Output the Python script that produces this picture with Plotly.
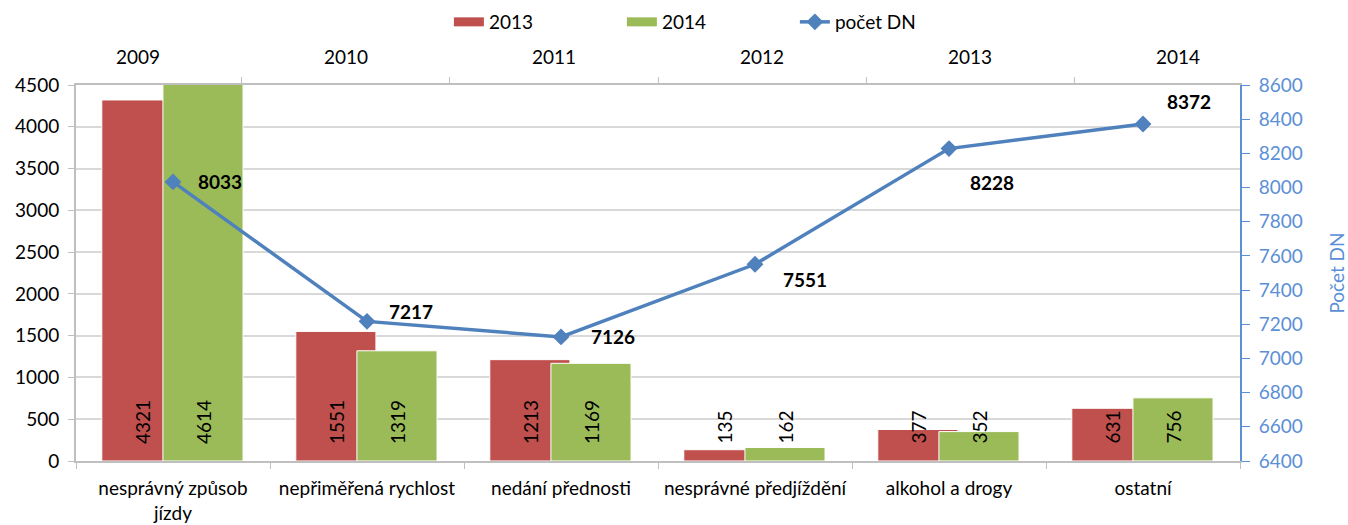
import plotly.graph_objects as go

categories = ["nesprávný způsob<br>jízdy", "nepřiměřená rychlost", "nedání přednosti",
              "nesprávné předjíždění", "alkohol a drogy", "ostatní"]
values_2013 = [4321, 1551, 1213, 135, 377, 631]
values_2014 = [4614, 1319, 1169, 162, 352, 756]
years = ["2009", "2010", "2011", "2012", "2013", "2014"]
pocet_dn = [8033, 7217, 7126, 7551, 8228, 8372]
# label offsets (px) for the line values, relative to the marker
line_label_shift = [(47, 0), (44, 10), (52, 0), (50, -15), (43, -34), (46, 22)]

RED = "#C0504D"
GREEN = "#9BBB59"
BLUE = "#4F81BD"
AXBLUE = "#5B8FD6"
GRID = "#D9D9D9"
AXGRAY = "#BFBFBF"
FONT = "Lato"
FS = 19

fig = go.Figure()
fig.add_trace(go.Bar(x=categories, y=values_2013, name="2013", showlegend=False,
                     marker=dict(color=RED, line=dict(color="white", width=1)),
                     width=0.413, offset=-0.367, xaxis="x", yaxis="y"))
fig.add_trace(go.Bar(x=categories, y=values_2014, name="2014", showlegend=False,
                     marker=dict(color=GREEN, line=dict(color="white", width=1)),
                     width=0.413, offset=-0.052, xaxis="x", yaxis="y"))
# legend entries drawn as wide rectangles (like the original legend keys)
fig.add_trace(go.Scatter(x=[None], y=[None], name="2013", mode="lines",
                         line=dict(color=RED, width=9), xaxis="x", yaxis="y"))
fig.add_trace(go.Scatter(x=[None], y=[None], name="2014", mode="lines",
                         line=dict(color=GREEN, width=9), xaxis="x", yaxis="y"))
fig.add_trace(go.Scatter(x=categories, y=pocet_dn, name="počet DN", mode="lines+markers",
                         line=dict(color=BLUE, width=3.5),
                         marker=dict(symbol="diamond", size=13, color=BLUE),
                         xaxis="x", yaxis="y2"))
# invisible trace to carry the top (year) axis
fig.add_trace(go.Scatter(x=categories, y=pocet_dn, mode="markers", marker=dict(opacity=0),
                         showlegend=False, hoverinfo="skip", xaxis="x2", yaxis="y2"))

annotations = []
for c, v13, v14 in zip(categories, values_2013, values_2014):
    for v, dx in ((v13, -31), (v14, 30)):
        annotations.append(dict(x=c, y=0, xref="x", yref="y", text=str(v), textangle=-90,
                                showarrow=False, xanchor="center", yanchor="bottom",
                                xshift=dx, yshift=15, font=dict(family=FONT, size=FS, color="black")))
for c, v, (dx, dy) in zip(categories, pocet_dn, line_label_shift):
    annotations.append(dict(x=c, y=v, xref="x", yref="y2", text="<b>%d</b>" % v, showarrow=False,
                            xshift=dx, yshift=dy, font=dict(family=FONT, size=FS, color="black")))

fig.update_layout(
    width=1348, height=525,
    margin=dict(l=76, r=108, t=85, b=64),
    paper_bgcolor="white", plot_bgcolor="white",
    barmode="overlay",
    font=dict(family=FONT, size=FS, color="black"),
    legend=dict(orientation="h", xref="container", yref="container",
                x=0.333, xanchor="left", y=1 - 22 / 525, yanchor="middle",
                entrywidth=128, entrywidthmode="pixels",
                font=dict(family=FONT, size=FS), traceorder="normal"),
    xaxis=dict(type="category", showline=True, linecolor=AXGRAY, linewidth=2, automargin=False,
               ticks="outside", tickson="boundaries", ticklen=6, tickcolor=AXGRAY, ticklabelstandoff=9,
               showgrid=False, tickfont=dict(family=FONT, size=FS)),
    xaxis2=dict(type="category", overlaying="x", side="top", showline=True, linecolor=AXGRAY,
                linewidth=2, automargin=False, tickmode="array", tickvals=categories, ticktext=years,
                ticks="outside", tickson="boundaries", ticklen=6, tickcolor=AXGRAY, ticklabelstandoff=11,
                showgrid=False, tickfont=dict(family=FONT, size=FS)),
    yaxis=dict(range=[0, 4500], dtick=500, showgrid=True, gridcolor=GRID, gridwidth=2, automargin=False,
               showline=True, linecolor=AXGRAY, linewidth=2, ticks="outside", ticklen=6,
               tickcolor=AXGRAY, zeroline=False, ticklabelstandoff=5, tickfont=dict(family=FONT, size=FS)),
    yaxis2=dict(range=[6400, 8600], dtick=200, overlaying="y", side="right", showgrid=False, automargin=False,
                showline=True, linecolor=AXBLUE, linewidth=2, ticks="outside", ticklen=8,
                tickcolor=AXBLUE, zeroline=False, ticklabelstandoff=5,
                tickfont=dict(family=FONT, size=FS, color=AXBLUE),
                title=dict(text="Počet DN", font=dict(family=FONT, size=FS, color=AXBLUE), standoff=30)),
    annotations=annotations,
)

fig.write_html("out.html", config={"displayModeBar": False},
               post_script="document.body.style.margin='0';")
